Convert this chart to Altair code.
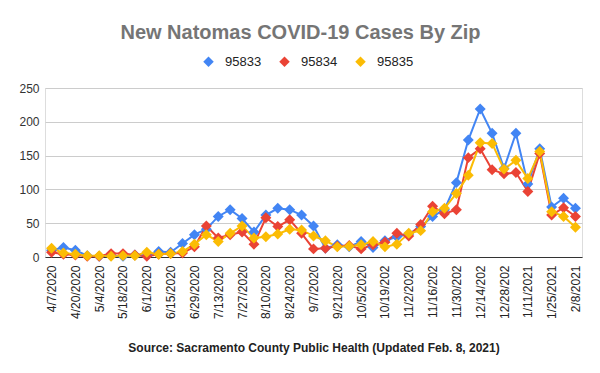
import altair as alt
import pandas as pd

dates = ["4/7/2020", "4/13/2020", "4/20/2020", "4/27/2020", "5/4/2020", "5/11/2020",
         "5/18/2020", "5/25/2020", "6/1/2020", "6/8/2020", "6/15/2020", "6/22/2020",
         "6/29/2020", "7/6/2020", "7/13/2020", "7/20/2020", "7/27/2020", "8/3/2020",
         "8/10/2020", "8/17/2020", "8/24/2020", "8/31/2020", "9/7/2020", "9/14/2020",
         "9/21/2020", "9/28/2020", "10/5/2020", "10/12/2020", "10/19/2020", "10/26/2020",
         "11/2/2020", "11/9/2020", "11/16/2020", "11/23/2020", "11/30/2020", "12/7/2020",
         "12/14/2020", "12/21/2020", "12/28/2020", "1/4/2021", "1/11/2021", "1/18/2021",
         "1/25/2021", "2/1/2021", "2/8/2021"]

tick_labels = ["4/7/2020", "4/20/2020", "5/4/2020", "5/18/2020", "6/1/2020", "6/15/2020",
               "6/29/2020", "7/13/2020", "7/27/2020", "8/10/2020", "8/24/2020", "9/7/2020",
               "9/21/2020", "10/5/2020", "10/19/2020", "11/2/2020", "11/16/2020",
               "11/30/2020", "12/14/2020", "12/28/2020", "1/11/2021", "1/25/2021", "2/8/2021"]

series_names = ["95833", "95834", "95835"]
series_colors = ["#4285F4", "#EA4335", "#FBBC04"]

zip_95833 = [10, 14, 10, 2, 1, 2, 1, 3, 2, 8, 7, 20, 33, 41, 60, 70, 57, 37, 62, 72, 70, 62,
             46, 13, 18, 15, 23, 14, 24, 30, 34, 45, 60, 70, 110, 173, 219, 183, 131, 183,
             108, 160, 74, 87, 72]
zip_95834 = [7, 4, 3, 1, 1, 5, 5, 3, 1, 4, 5, 6, 15, 46, 28, 33, 37, 19, 58, 45, 55, 35,
             12, 13, 16, 17, 12, 18, 22, 35, 31, 48, 75, 64, 70, 147, 160, 129, 123, 125,
             97, 153, 62, 73, 60]
zip_95835 = [13, 6, 4, 2, 2, 1, 2, 2, 7, 4, 5, 8, 19, 33, 23, 35, 46, 28, 30, 34, 41, 40,
             31, 24, 15, 16, 18, 23, 15, 19, 35, 39, 67, 72, 94, 121, 169, 168, 130, 143,
             116, 156, 67, 60, 44]

rows = []
for name, vals in zip(series_names, [zip_95833, zip_95834, zip_95835]):
    for d, v in zip(dates, vals):
        rows.append({"date": d, "zip": name, "cases": v})
df = pd.DataFrame(rows)

FONT = "Liberation Sans"

x = alt.X(
    "date:N",
    sort=dates,
    scale=alt.Scale(type="point", padding=0.55),
    axis=alt.Axis(
        values=tick_labels,
        labelAngle=-90,
        labelFontSize=12,
        labelColor="#222222",
        labelPadding=8,
        labelExpr="slice(datum.label, 0, 9)",
        labelOverlap=False,
        ticks=False,
        domainColor="#333333",
        title="Source: Sacramento County Public Health (Updated Feb. 8, 2021)",
        titleFontSize=12,
        titleFontWeight="bold",
        titleColor="#222222",
        titlePadding=24,
        titleFont=FONT,
        labelFont=FONT,
    ),
)
y = alt.Y(
    "cases:Q",
    scale=alt.Scale(domain=[0, 250], nice=False),
    axis=alt.Axis(
        values=[0, 50, 100, 150, 200, 250],
        title=None,
        domain=False,
        ticks=False,
        labelFontSize=12,
        labelColor="#333333",
        labelPadding=6,
        gridColor="#cccccc",
        labelFont=FONT,
    ),
)
color = alt.Color(
    "zip:N",
    scale=alt.Scale(domain=series_names, range=series_colors),
    legend=alt.Legend(
        title=None,
        orient="none",
        direction="horizontal",
        legendX=157,
        legendY=-33,
        symbolType="diamond",
        symbolSize=110,
        symbolStrokeWidth=0,
        labelFontSize=13,
        labelFont=FONT,
        labelColor="#222222",
        labelOffset=10,
        columnPadding=16,
        padding=0,
    ),
)

lines = alt.Chart(df).mark_line(strokeWidth=2).encode(x=x, y=y, color=color)
points = alt.Chart(df).mark_point(shape="diamond", filled=True, size=120, opacity=1).encode(
    x=x, y=y, color=color
)

chart = (
    alt.layer(lines, points)
    .properties(
        width=537,
        height=169,
        autosize=alt.AutoSizeParams(type="none"),
        padding={"left": 37, "top": 80, "right": 10, "bottom": 108},
        title=alt.TitleParams(
            "New Natomas COVID-19 Cases By Zip",
            fontSize=20,
            font=FONT,
            fontWeight="bold",
            color="#757575",
            anchor="middle",
            dx=-13,
            offset=12,
        ),
    )
    .configure_view(stroke=None)
    .configure(background="white")
)

chart.save("out.html", embed_options={"renderer": "svg", "actions": False})
